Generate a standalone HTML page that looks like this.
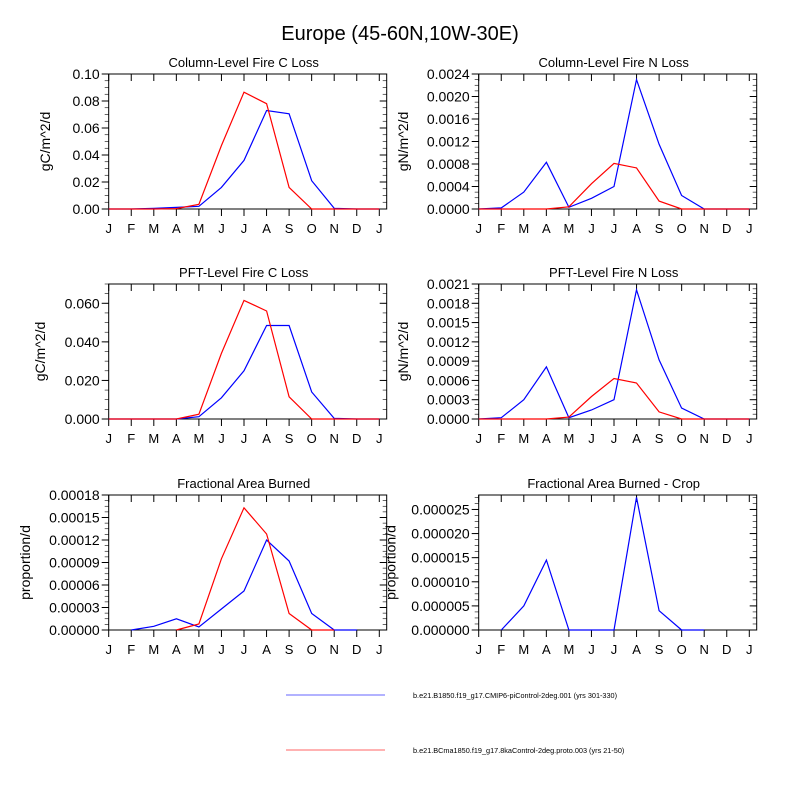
<!DOCTYPE html>
<html><head><meta charset="utf-8">
<style>
body{margin:0;background:#fff}
svg{display:block;font-family:"Liberation Sans",sans-serif}
</style></head>
<body>
<svg id="chart" width="800" height="800" viewBox="0 0 800 800">
<text x="400" y="40" text-anchor="middle" font-size="20">Europe (45-60N,10W-30E)</text>
<g>
<line x1="286" y1="695" x2="385" y2="695" stroke="#0000ff" stroke-width="1" opacity="0.6"/>
<text x="413" y="698" font-size="7.3">b.e21.B1850.f19_g17.CMIP6-piControl-2deg.001 (yrs 301-330)</text>
<line x1="286" y1="750" x2="385" y2="750" stroke="#ff0000" stroke-width="1" opacity="0.6"/>
<text x="413" y="753" font-size="7.3">b.e21.BCma1850.f19_g17.8kaControl-2deg.proto.003 (yrs 21-50)</text>
</g>
</svg>
<script>
const months = ["J","F","M","A","M","J","J","A","S","O","N","D","J"];
const titles = ["Column-Level Fire C Loss","Column-Level Fire N Loss","PFT-Level Fire C Loss","PFT-Level Fire N Loss","Fractional Area Burned","Fractional Area Burned - Crop"];
const units = ["gC/m^2/d","gN/m^2/d","gC/m^2/d","gN/m^2/d","proportion/d",""];
const yMax = [0.1,0.0024,0.07,0.0021,0.00018,0.000028];
const tick1 = ["0.00","0.02","0.04","0.06","0.08","0.10"];
const tick2 = ["0.0000","0.0004","0.0008","0.0012","0.0016","0.0020","0.0024"];
const tick3 = ["0.000","0.020","0.040","0.060"];
const tick4 = ["0.0000","0.0003","0.0006","0.0009","0.0012","0.0015","0.0018","0.0021"];
const tick5 = ["0.00000","0.00003","0.00006","0.00009","0.00012","0.00015","0.00018"];
const tick6 = ["0.000000","0.000005","0.000010","0.000015","0.000020","0.000025"];
const ticks = [tick1,tick2,tick3,tick4,tick5,tick6];
const blue1 = [0,0,0.0005,0.0012,0.002,0.016,0.036,0.073,0.0705,0.021,0.0005,0,0];
const red1  = [0,0,0,0.0003,0.0035,0.047,0.0865,0.078,0.016,0,0,0,0];
const blue2 = [0,0.00002,0.0003,0.00083,0.00003,0.00019,0.0004,0.0023,0.00115,0.00024,0,0,0];
const red2  = [0,0,0,0,0.00004,0.00045,0.00081,0.00073,0.00014,0,0,0,0];
const blue3 = [0,0,0,0,0.0012,0.011,0.025,0.0485,0.0485,0.014,0.0003,0,0];
const red3  = [0,0,0,0,0.0025,0.034,0.0615,0.056,0.0115,0,0,0,0];
const blue4 = [0,0.00002,0.0003,0.00081,0.00002,0.00014,0.0003,0.00201,0.00092,0.00017,0,0,0];
const red4  = [0,0,0,0,0.00003,0.00035,0.00063,0.00056,0.00011,0,0,0,0];
const blue5 = [null,0,0.000005,0.000015,0.000004,0.000028,0.000052,0.00012,0.000092,0.000022,0,0,null];
const red5  = [null,null,null,0,0.000008,0.000095,0.000163,0.000128,0.000022,0,0,null,null];
const blue6 = [null,0,0.000005,0.0000145,0,0,0,0.0000275,0.000004,0,0,null,null];
const red6  = [null,null,null,null,null,null,null,null,null,null,null,null,null];
const blues = [blue1,blue2,blue3,blue4,blue5,blue6];
const reds = [red1,red2,red3,red4,red5,red6];

const NS = "http://www.w3.org/2000/svg";
const svg = document.getElementById("chart");
function mk(tag, attrs, parent){const e=document.createElementNS(NS,tag);for(const k in attrs)e.setAttribute(k,attrs[k]);parent.appendChild(e);return e;}
const colX = [108.7,478.7];
const rowY = [74,284,495];
const titleX = [50,408,45,408,30,0];
const W = 278, H = 135, step = 22.55;
for(let p=0;p<6;p++){
  const x0 = colX[p%2], y0 = rowY[Math.floor(p/2)];
  const g = mk("g",{},svg);
  
  
  const xs = i => x0 + i*step;
  const ys = v => y0 + H - v/yMax[p]*H;
  const t = mk("text",{x:x0+W/2-4,y:y0-7,"text-anchor":"middle","font-size":13},g);
  t.textContent = titles[p];
  
  
  const fr = mk("rect",{x:x0,y:y0,width:W,height:H,fill:"none",stroke:"#000","stroke-width":1},g);
  
  
  months.forEach((m,i)=>{
    const X = xs(i);
    mk("line",{x1:X,y1:y0+H,x2:X,y2:y0+H+7,stroke:"#000"},g);
    mk("line",{x1:X,y1:y0,x2:X,y2:y0+7,stroke:"#000"},g);
    const lt = mk("text",{x:X,y:y0+H+24,"text-anchor":"middle","font-size":13},g);
    lt.textContent = m;
    
    
  });
  const tl = ticks[p];
  const dv = parseFloat(tl[1]) - parseFloat(tl[0]);
  tl.forEach(s=>{
    const v = parseFloat(s); const Y = ys(v);
    mk("line",{x1:x0-7,y1:Y,x2:x0,y2:Y,stroke:"#000"},g);
    mk("line",{x1:x0+W,y1:Y,x2:x0+W-7,y2:Y,stroke:"#000"},g);
    const lt = mk("text",{x:x0-9,y:Y+5,"text-anchor":"end","font-size":14},g);
    lt.textContent = s;
    
    
  });
  for(let v=0; v<=yMax[p]+1e-12; v+=dv/4){
    const Y = ys(v);
    mk("line",{x1:x0-4,y1:Y,x2:x0,y2:Y,stroke:"#000","stroke-width":0.6},g);
    mk("line",{x1:x0+W,y1:Y,x2:x0+W-4,y2:Y,stroke:"#000","stroke-width":0.6},g);
  }
  if(units[p]){
    const yt = mk("text",{x:0,y:0,"text-anchor":"middle","font-size":14,transform:`translate(${titleX[p]},${y0+H/2}) rotate(-90)`},g);
    yt.textContent = units[p];
    
    
  }
  if(p===4){
    const yr = mk("text",{x:0,y:0,"text-anchor":"middle","font-size":14,transform:`translate(${x0+W+9},${y0+H/2}) rotate(-90)`},g);
    yr.textContent = units[p];
    
    
  }
  [[blues[p],"#0000ff","blue"],[reds[p],"#ff0000","red"]].forEach(([arr,col,nm])=>{
    let d="", pen=false;
    arr.forEach((v,i)=>{
      if(v===null){pen=false;return;}
      d += (pen?"L":"M")+xs(i).toFixed(1)+","+ys(v).toFixed(1)+" ";
      pen=true;
    });
    if(d){
      const l = mk("path",{d:d,fill:"none",stroke:col,"stroke-width":1.2},g);
      
      
    }
  });
}
</script>
</body></html>
